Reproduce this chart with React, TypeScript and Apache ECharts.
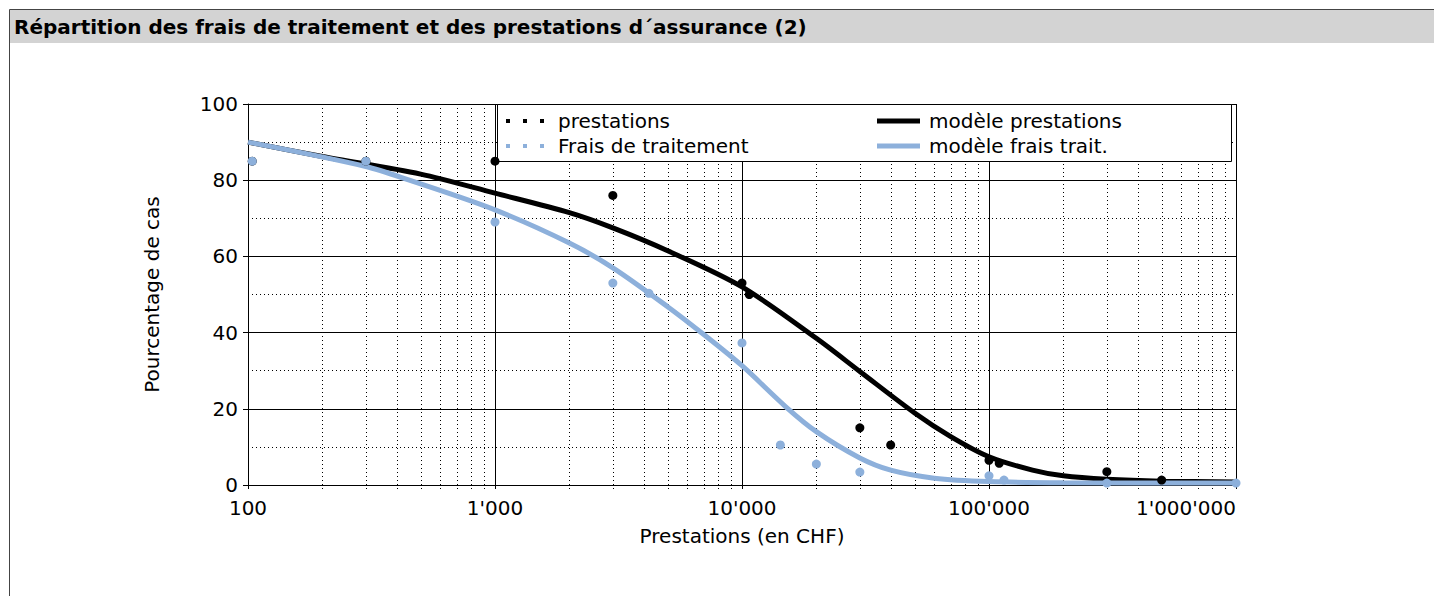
import React, { useEffect, useRef } from "react";
import * as echarts from "echarts";

const TITLE = "Répartition des frais de traitement et des prestations d´assurance (2)";
const X_NAME = "Prestations (en CHF)";
const Y_NAME = "Pourcentage de cas";

const SERIES_NAMES = ["prestations", "Frais de traitement", "modèle prestations", "modèle frais trait."];

// observed points
const prestX = [104, 300, 1000, 3000, 10000, 10700, 30000, 40000, 100000, 110000, 300000, 500000];
const prestY = [85, 85, 85, 76, 53, 50, 15, 10.5, 6.5, 5.7, 3.5, 1.3];
const fraisX = [104, 300, 1000, 3000, 4200, 10000, 14300, 20000, 30000, 100000, 115000, 300000, 1000000];
const fraisY = [85, 85, 69, 53, 50.3, 37.3, 10.5, 5.5, 3.4, 2.4, 1.3, 0.5, 0.5];

// model curves
const modelPrestX = [100, 200, 500, 1000, 2000, 3000, 5000, 10000, 20000, 30000, 50000, 70000, 100000, 150000, 200000, 300000, 500000, 1000000];
const modelPrestY = [90, 86.2, 81.6, 76.6, 71.5, 67.5, 61.5, 52, 38.5, 29.8, 18.9, 12.7, 7.4, 3.9, 2.4, 1.5, 1.0, 0.8];
const modelFraisX = [100, 300, 450, 1000, 2000, 3000, 5000, 7000, 10000, 15000, 20000, 30000, 40000, 60000, 100000, 200000, 1000000];
const modelFraisY = [90, 83.6, 80, 72.2, 63.5, 57, 46.8, 39.5, 31.3, 20.6, 14, 7.1, 3.9, 1.8, 0.9, 0.6, 0.5];

// axis ticks
const X_MIN = 100;
const X_MAX = 1000000;
const Y_MIN = 0;
const Y_MAX = 100;
const Y_INTERVAL = 20;
const MINOR_X = [
  200, 300, 400, 500, 600, 700, 800, 900,
  2000, 3000, 4000, 5000, 6000, 7000, 8000, 9000,
  20000, 30000, 40000, 50000, 60000, 70000, 80000, 90000,
  200000, 300000, 400000, 500000, 600000, 700000, 800000, 900000,
];

const FONT = "'DejaVu Sans', Verdana, sans-serif";
const BLACK = "#000000";
const BLUE = "#8DB0DB";

const zip = (xs: number[], ys: number[]) => xs.map((x, i) => [x, ys[i]]);
const fmt = (v: number) => String(Math.round(v)).replace(/\B(?=(\d{3})+(?!\d))/g, "'");

const DOTS_ICON = "path://M0,0h4v4h-4zM17,0h4v4h-4zM34,0h4v4h-4zM47,0v4";
const BAR_ICON = "path://M0,0h43v5h-43zM47,0v5";

export default function App() {
  const ref = useRef<HTMLDivElement>(null);

  useEffect(() => {
    if (!ref.current) return;
    const chart = echarts.init(ref.current, null, { renderer: "svg" });
    const labelStyle = { fontFamily: FONT, fontSize: 20, color: BLACK };

    const option: any = {
      animation: false,
      backgroundColor: "#ffffff",
      title: {
        text: TITLE,
        left: 14,
        top: 17,
        padding: 0,
        textStyle: { fontFamily: FONT, fontSize: 20, fontWeight: "bold", color: BLACK },
      },
      graphic: [
        {
          type: "rect",
          z: 0,
          silent: true,
          shape: { x: 9.5, y: 9.5, width: 1500, height: 700 },
          style: { fill: "#ffffff", stroke: "#444444", lineWidth: 1 },
        },
        {
          type: "rect",
          z: 0,
          silent: true,
          shape: { x: 10, y: 10, width: 1430, height: 33 },
          style: { fill: "#D3D3D3" },
        },
        {
          type: "rect",
          z: 1.5,
          silent: true,
          shape: { x: 497.5, y: 104.5, width: 734, height: 57 },
          style: { fill: "#ffffff", stroke: BLACK, lineWidth: 1 },
        },
      ],
      legend: [
        {
          orient: "vertical",
          left: 506,
          top: 111,
          padding: 0,
          itemGap: 5,
          itemWidth: 47,
          itemHeight: 4,
          selectedMode: false,
          data: [
            { name: SERIES_NAMES[0], icon: DOTS_ICON },
            { name: SERIES_NAMES[1], icon: DOTS_ICON },
          ],
          textStyle: labelStyle,
        },
        {
          orient: "vertical",
          left: 877,
          top: 111,
          padding: 0,
          itemGap: 5,
          itemWidth: 47,
          itemHeight: 5,
          selectedMode: false,
          data: [
            { name: SERIES_NAMES[2], icon: BAR_ICON },
            { name: SERIES_NAMES[3], icon: BAR_ICON },
          ],
          textStyle: labelStyle,
        },
      ],
      grid: {
        left: 248,
        top: 104,
        width: 988,
        height: 381,
        show: true,
        borderColor: BLACK,
        borderWidth: 1,
        containLabel: false,
      },
      xAxis: {
        type: "log",
        logBase: 10,
        min: X_MIN,
        max: X_MAX,
        name: X_NAME,
        nameLocation: "middle",
        nameGap: 41,
        nameTextStyle: labelStyle,
        axisLine: { show: true, lineStyle: { color: BLACK, width: 1 } },
        axisTick: { show: true, length: 4, lineStyle: { color: BLACK } },
        axisLabel: {
          ...labelStyle,
          margin: 13,
          formatter: fmt,
          alignMaxLabel: "right",
        },
        splitLine: { show: true, lineStyle: { color: BLACK, width: 1 } },
      },
      yAxis: {
        type: "value",
        min: Y_MIN,
        max: Y_MAX,
        interval: Y_INTERVAL,
        name: Y_NAME,
        nameLocation: "middle",
        nameGap: 86,
        nameRotate: 90,
        nameTextStyle: labelStyle,
        axisLine: { show: true, lineStyle: { color: BLACK, width: 1 } },
        axisTick: { show: true, length: 5, lineStyle: { color: BLACK } },
        axisLabel: { ...labelStyle, margin: 10 },
        splitLine: { show: true, lineStyle: { color: BLACK, width: 1 } },
        minorTick: { show: false, splitNumber: 2 },
        minorSplitLine: { show: true, lineStyle: { color: BLACK, width: 1, type: [1, 3] } },
      },
      series: [
        {
          type: "custom",
          name: "minor-grid",
          silent: true,
          z: 1,
          clip: false,
          data: MINOR_X.map((v) => [v, Y_MIN]),
          encode: { x: 0, y: 1 },
          renderItem: (_params: any, api: any) => {
            const v = api.value(0);
            const top = api.coord([v, Y_MAX]);
            const bottom = api.coord([v, Y_MIN]);
            const x = Math.round(top[0]) + 0.5;
            return {
              type: "line",
              shape: { x1: x, y1: top[1], x2: x, y2: bottom[1] + 4 },
              style: { stroke: BLACK, lineWidth: 1, lineDash: [1, 3] },
            };
          },
        },
        {
          type: "scatter",
          name: SERIES_NAMES[0],
          z: 2,
          symbol: "circle",
          symbolSize: 9,
          color: BLACK,
          itemStyle: { color: BLACK, opacity: 1 },
          data: zip(prestX, prestY),
        },
        {
          type: "scatter",
          name: SERIES_NAMES[1],
          z: 2,
          symbol: "circle",
          symbolSize: 9,
          color: BLUE,
          itemStyle: { color: BLUE, opacity: 1 },
          data: zip(fraisX, fraisY),
        },
        {
          type: "line",
          name: SERIES_NAMES[2],
          z: 2,
          smooth: 0.3,
          showSymbol: false,
          symbol: "none",
          color: BLACK,
          itemStyle: { color: BLACK },
          lineStyle: { color: BLACK, width: 5 },
          data: zip(modelPrestX, modelPrestY),
        },
        {
          type: "line",
          name: SERIES_NAMES[3],
          z: 2,
          smooth: 0.3,
          showSymbol: false,
          symbol: "none",
          color: BLUE,
          itemStyle: { color: BLUE },
          lineStyle: { color: BLUE, width: 5 },
          data: zip(modelFraisX, modelFraisY),
        },
      ],
    };

    chart.setOption(option);
    return () => chart.dispose();
  }, []);

  return (
    <div
      ref={ref}
      style={{ position: "absolute", left: 0, top: 0, width: 1434, height: 596 }}
    />
  );
}
